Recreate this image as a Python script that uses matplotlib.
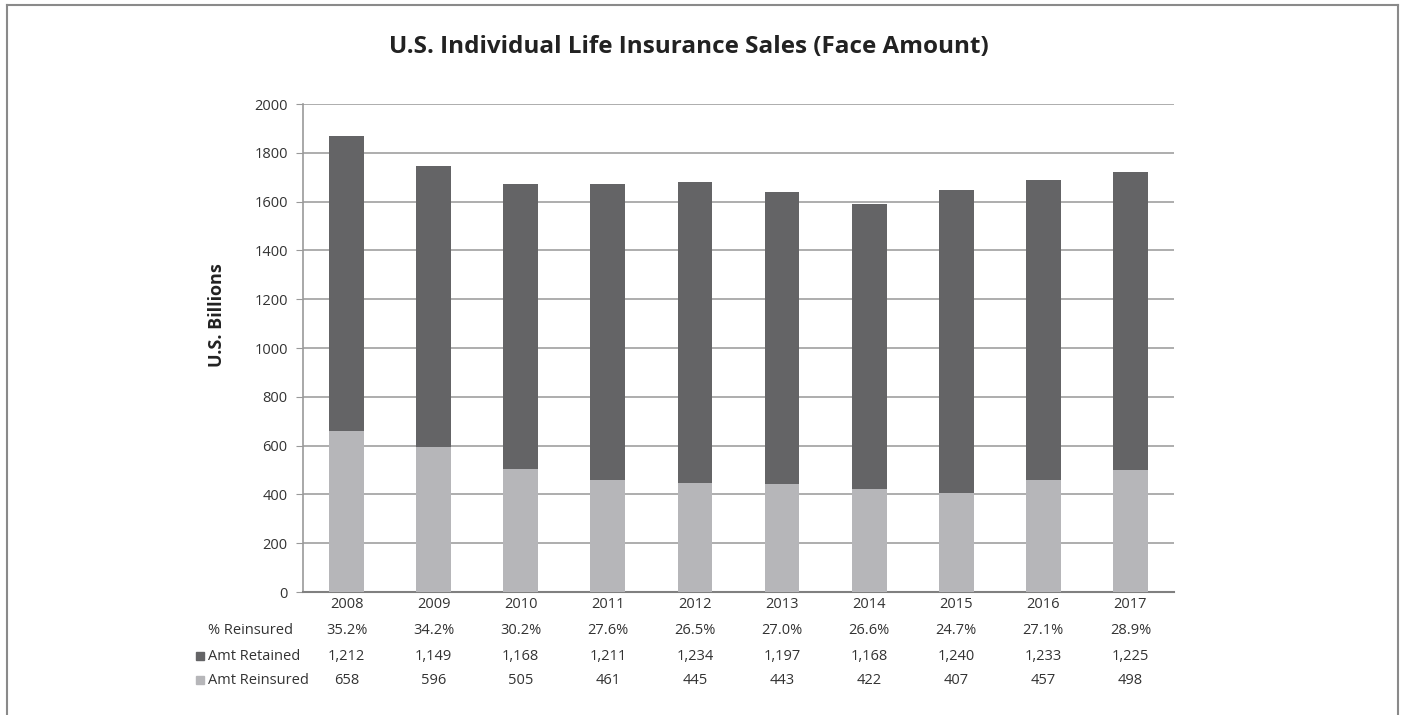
import matplotlib.pyplot as plt
import matplotlib.transforms as mtransforms
from matplotlib.lines import Line2D
from matplotlib.patches import Rectangle

plt.rcParams["font.family"] = ["Open Sans", "DejaVu Sans"]

years = ["2008", "2009", "2010", "2011", "2012", "2013", "2014", "2015", "2016", "2017"]
amt_retained = [1212, 1149, 1168, 1211, 1234, 1197, 1168, 1240, 1233, 1225]
amt_reinsured = [658, 596, 505, 461, 445, 443, 422, 407, 457, 498]
pct_reinsured = ["35.2%", "34.2%", "30.2%", "27.6%", "26.5%", "27.0%", "26.6%", "24.7%", "27.1%", "28.9%"]

dark = "#646466"
light = "#b6b6b9"
text_color = "#333333"

fig = plt.figure(figsize=(14.03, 7.15), dpi=100)
ax = fig.add_axes([303 / 1403, 1 - 592 / 715, (1174 - 303) / 1403, (592 - 104) / 715])

x = list(range(len(years)))
ax.bar(x, amt_reinsured, width=0.4, color=light, zorder=3)
ax.bar(x, amt_retained, width=0.4, bottom=amt_reinsured, color=dark, zorder=3)

ax.set_xlim(-0.5, len(years) - 0.5)
ax.set_ylim(0, 2000)
ax.set_yticks(range(0, 2001, 200))
ax.tick_params(axis="y", length=5, color="#999999", labelsize=10.5, labelcolor=text_color, pad=6)
ax.tick_params(axis="x", length=0, labelbottom=False)
ax.grid(axis="y", color="#a0a0a0", linewidth=1.2, zorder=0)
for side in ["top", "right"]:
    ax.spines[side].set_visible(False)
ax.spines["left"].set_color("#999999")
ax.spines["bottom"].set_color("#808080")
ax.spines["left"].set_linewidth(1.2)
ax.spines["bottom"].set_linewidth(1.5)

fig.text(217 / 1403, 1 - 315 / 715, "U.S. Billions", rotation=90, ha="center", va="center",
         fontsize=13, fontweight="bold", color="#222222")

fig.text(689 / 1403, 1 - 47 / 715, "U.S. Individual Life Insurance Sales (Face Amount)",
         ha="center", va="center", fontsize=17.5, fontweight="bold", color="#222222")

# data table under the axis
trans = mtransforms.blended_transform_factory(ax.transData, fig.transFigure)
rows = [
    (605, None, years),
    (630, "% Reinsured", pct_reinsured),
    (656, "Amt Retained", [f"{v:,}" for v in amt_retained]),
    (680, "Amt Reinsured", [f"{v:,}" for v in amt_reinsured]),
]
for ypix, label, vals in rows:
    yf = 1 - ypix / 715
    for xi, v in zip(x, vals):
        ax.text(xi, yf, v, transform=trans, ha="center", va="center",
                fontsize=10.5, color=text_color, clip_on=False)
    if label:
        fig.text(208 / 1403, yf, label, ha="left", va="center", fontsize=10.5, color=text_color)

for ypix, c in [(656, dark), (680, light)]:
    fig.patches.append(Rectangle((196 / 1403, 1 - (ypix + 4) / 715), 8 / 1403, 8 / 715,
                                 transform=fig.transFigure, color=c))

# outer frame (left, top, right)
frame = "#8a8a8a"
fig.add_artist(Line2D([7 / 1403, 7 / 1403], [0, 1 - 5 / 715], transform=fig.transFigure, color=frame, lw=1.5))
fig.add_artist(Line2D([7 / 1403, 1398 / 1403], [1 - 5 / 715, 1 - 5 / 715], transform=fig.transFigure, color=frame, lw=1.5))
fig.add_artist(Line2D([1398 / 1403, 1398 / 1403], [0, 1 - 5 / 715], transform=fig.transFigure, color=frame, lw=1.5))

fig.savefig("out.png", dpi=100)
plt.close(fig)
